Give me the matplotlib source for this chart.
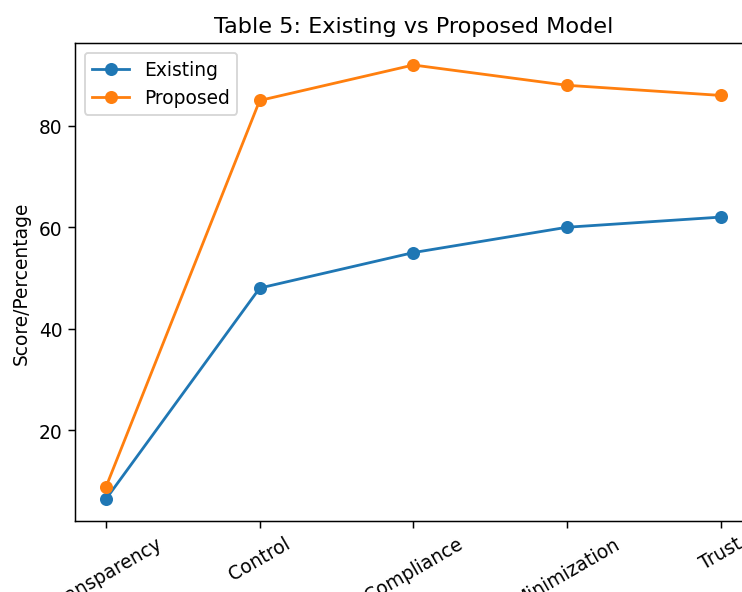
import matplotlib
matplotlib.use("Agg")
import matplotlib.pyplot as plt

categories = ["Transparency", "Control", "Compliance", "Minimization", "Trust"]
existing = [6.4, 48, 55, 60, 62]
proposed = [8.8, 85, 92, 88, 86]

DPI = 134
fig = plt.figure(figsize=(742 / DPI, 593 / DPI), dpi=DPI)
ax = fig.add_axes([75.3 / 742, (593 - 521.7) / 593, (751.4 - 75.3) / 742, (521.7 - 44.3) / 593])

ax.plot(categories, existing, marker="o", label="Existing")
ax.plot(categories, proposed, marker="o", label="Proposed")
ax.set_title("Table 5: Existing vs Proposed Model")
ax.set_ylabel("Score/Percentage")
ax.set_yticks([20, 40, 60, 80])
ax.tick_params(axis="x", labelrotation=30)
ax.legend(loc="upper left")

fig.savefig("out.png", dpi=DPI)
